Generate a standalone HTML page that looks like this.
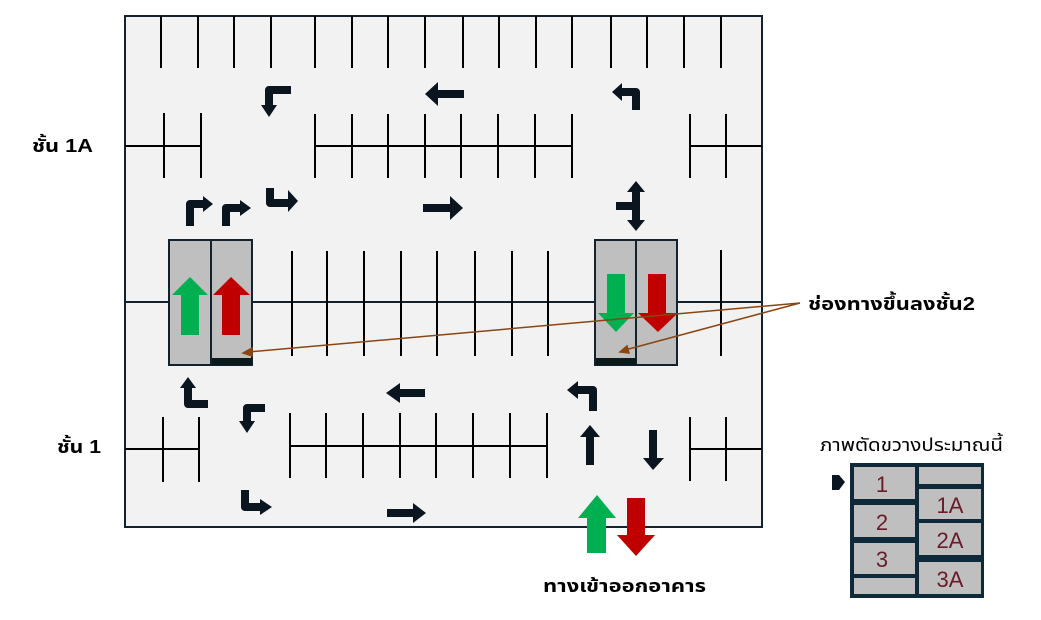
<!DOCTYPE html>
<html><head><meta charset="utf-8"><style>
html,body{margin:0;padding:0;background:#fff;}
svg{display:block;}
text{font-family:"Liberation Sans","Noto Sans Thai","Tahoma","DejaVu Sans",sans-serif;}
</style></head><body>
<svg width="1041" height="620" viewBox="0 0 1041 620" xmlns="http://www.w3.org/2000/svg">
<rect x="125" y="16" width="637" height="511" fill="#f2f2f2" stroke="#12232f" stroke-width="2"/>
<g stroke="#000" stroke-width="2">
<path d="M161 16V68M198 16V68M234 16V68M271 16V68M315 16V68M352 16V68M388 16V68M425 16V68M463 16V68M499 16V68M536 16V68M572 16V68M611 16V68M647 16V68M684 16V68M721 16V68"/>
<path d="M125 146H201M164 113V178M201 113V178"/>
<path d="M315 146H572M315 114V178M352 114V178M388 114V178M425 114V178M461 114V178M498 114V178M535 114V178M572 114V178"/>
<path d="M690 146H762M690 114V178M726 114V178"/>
<path d="M125 302H762" stroke="#12232f"/>
<path d="M292 251V356M327 251V356M364 251V356M401 251V356M437 251V356M475 251V356M512 251V356M548 251V356M721 250V356"/>
<path d="M125 449H200M163 417V482M199 417V482"/>
<path d="M290 446H547M290 413V478M326 413V478M363 413V478M400 413V478M436 413V478M473 413V478M510 413V478M547 413V478"/>
<path d="M690 449H762M690 417V481M726 417V481"/>
</g>
<g stroke="#12232f" stroke-width="2" fill="#bfbfbf">
<rect x="169" y="240" width="42" height="125"/><rect x="211" y="240" width="41" height="125"/>
<rect x="595" y="240" width="41" height="125"/><rect x="636" y="240" width="41" height="125"/>
</g>
<rect x="212" y="358" width="40" height="7" fill="#0b1a1a"/>
<rect x="596" y="358" width="40" height="7" fill="#0b1a1a"/>
<polygon points="190,277 208,295 199,295 199,335 181,335 181,295 172,295" fill="#00b050"/>
<polygon points="231,277 250,295 240,295 240,335 222,335 222,295 213,295" fill="#c00000"/>
<polygon points="607,274 625,274 625,313 634,313 616,332 598,313 607,313" fill="#00b050"/>
<polygon points="648,274 666,274 666,313 678,313 658,332 638,313 648,313" fill="#c00000"/>
<polygon points="597,495 616,518 606,518 606,553 587,553 587,518 578,518" fill="#00b050"/>
<polygon points="627,498 645,498 645,535 655,535 636,556 617,535 627,535" fill="#c00000"/>
<g stroke="#8b4513" stroke-width="1.5" fill="#8b4513">
<line x1="800" y1="303" x2="248" y2="352"/>
<polygon points="243,353 252,348 252,356"/>
<line x1="800" y1="303" x2="625" y2="350"/>
<polygon points="620,352 627,346 629,353"/>
</g>
<g stroke="#0a1520" stroke-width="8" fill="none" stroke-linejoin="round">
<path d="M291 90H269V107"/>
<path d="M464 94H437"/>
<path d="M620 92H636V110"/>
<path d="M270 188V203H290"/>
<path d="M423 208H451"/>
<path d="M190 226V204H205"/>
<path d="M226 226V208H242"/>
<path d="M636 190V222M636 206H616"/>
<path d="M188 386V404H208"/>
<path d="M265 408H247V423"/>
<path d="M425 393H398"/>
<path d="M576 390H593V411"/>
<path d="M590 435V465"/>
<path d="M653 430V460"/>
<path d="M245 490V507H262"/>
<path d="M387 513H415"/>
</g>
<g fill="#0a1520">
<polygon points="261,105 277,105 269,117"/>
<polygon points="438,82 438,106 425,94"/>
<polygon points="612,92 622,83 622,101"/>
<polygon points="288,190 288,212 298,201"/>
<polygon points="450,196 450,220 463,208"/>
<polygon points="203,196 203,212 213,204"/>
<polygon points="240,200 240,216 251,208"/>
<polygon points="627,192 645,192 636,181"/>
<polygon points="627,220 645,220 636,231"/>
<polygon points="180,388 196,388 188,377"/>
<polygon points="239,421 255,421 247,433"/>
<polygon points="400,383 400,403 386,393"/>
<polygon points="578,381 578,399 567,390"/>
<polygon points="580,437 600,437 590,425"/>
<polygon points="643,458 664,458 653,470"/>
<polygon points="260,499 260,515 272,507"/>
<polygon points="413,503 413,523 426,513"/>
<polygon points="832,475 839,475 845,482 839,490 832,490"/>
</g>
<g font-weight="bold" font-size="18" fill="#000">
<text x="32" y="152" textLength="61" lengthAdjust="spacingAndGlyphs">ชั้น 1A</text>
<text x="57" y="453" textLength="44" lengthAdjust="spacingAndGlyphs">ชั้น 1</text>
<text x="808" y="310" textLength="167" lengthAdjust="spacingAndGlyphs">ช่องทางขึ้นลงชั้น2</text>
<text x="543" y="592" textLength="163" lengthAdjust="spacingAndGlyphs">ทางเข้าออกอาคาร</text>
</g>
<text x="820" y="451" font-size="18" fill="#000" textLength="183" lengthAdjust="spacingAndGlyphs">ภาพตัดขวางประมาณนี้</text>
<rect x="850" y="463" width="134" height="135" fill="#0e2a3a"/>
<g fill="#bfbfbf">
<rect x="854" y="467" width="61" height="32"/>
<rect x="854" y="505" width="61" height="32"/>
<rect x="854" y="543" width="61" height="31"/>
<rect x="854" y="578" width="61" height="16"/>
<rect x="919" y="467" width="62" height="17"/>
<rect x="919" y="489" width="62" height="30"/>
<rect x="919" y="523" width="62" height="32"/>
<rect x="919" y="562" width="62" height="32"/>
</g>
<g fill="#6b1a2a" font-size="22" text-anchor="middle">
<text x="882" y="492">1</text>
<text x="882" y="530">2</text>
<text x="882" y="567">3</text>
<text x="950" y="513">1A</text>
<text x="950" y="548">2A</text>
<text x="950" y="587">3A</text>
</g>
</svg>
</body></html>
